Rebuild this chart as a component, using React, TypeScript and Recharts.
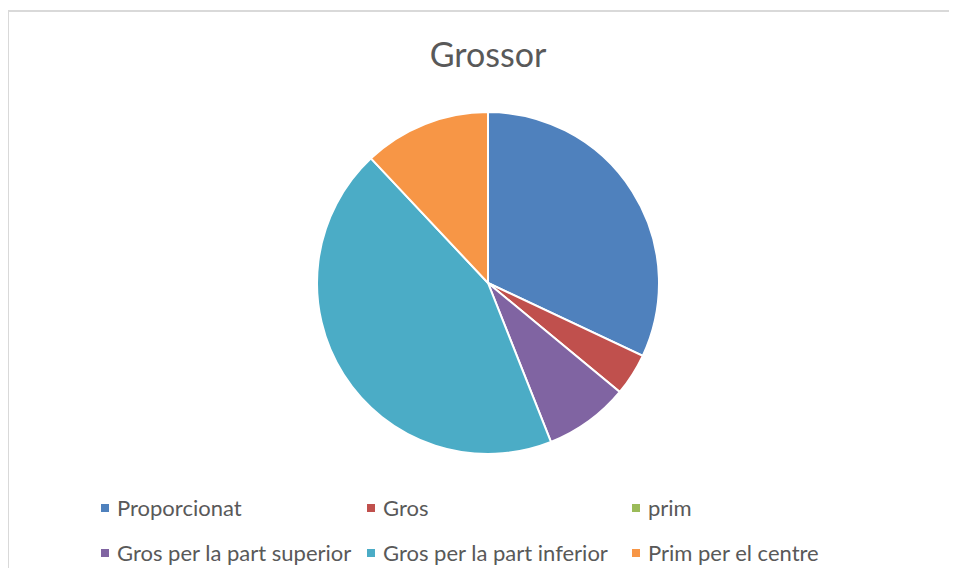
import React, { useEffect } from "react";
import { PieChart, Pie, Cell, Legend } from "recharts";

const categories = [
  "Proporcionat",
  "Gros",
  "prim",
  "Gros per la part superior",
  "Gros per la part inferior",
  "Prim per el centre",
];
const counts = [8, 1, 0, 2, 11, 3];
const COLORS = ["#4F81BD", "#C0504D", "#9BBB59", "#8064A2", "#4BACC6", "#F79646"];

const data = categories.map((name, i) => ({ name, value: counts[i] }));

const FONT = "Lato, 'Open Sans', sans-serif";
const TEXT = "#595959";

// legend grid: 3 columns, 2 rows
const legendCols = [93, 359, 624];
const legendRows = [499.5, 544.5];

function LegendGrid(props: any) {
  const payload = [...(props?.payload ?? [])].sort(
    (a: any, b: any) => categories.indexOf(a.value) - categories.indexOf(b.value)
  );
  return (
    <div style={{ position: "relative", width: 900, height: 0 }}>
      {payload.map((entry: any, i: number) => (
        <div
          key={`leg-${i}`}
          style={{
            position: "absolute",
            left: legendCols[i % 3],
            top: legendRows[Math.floor(i / 3)] - 13,
            height: 26,
            display: "flex",
            alignItems: "center",
            whiteSpace: "nowrap",
          }}
        >
          <span
            style={{
              display: "inline-block",
              width: 8,
              height: 8,
              background: entry.color,
              marginRight: 8,
            }}
          />
          <span
            style={{
              fontFamily: FONT,
              fontSize: 22,
              lineHeight: "26px",
              color: TEXT,
            }}
          >
            {entry.value}
          </span>
        </div>
      ))}
    </div>
  );
}

export default function App() {
  useEffect(() => {
    document.body.style.overflow = "hidden";
  }, []);

  return (
    <div style={{ position: "relative", width: 900, height: 560 }}>
      {/* chart frame: only top and left edges are visible in the crop */}
      <div
        style={{
          position: "absolute",
          left: -1,
          top: 2,
          width: 958,
          height: 2,
          background: "#d9d9d9",
        }}
      />
      <div
        style={{
          position: "absolute",
          left: -1,
          top: 2,
          width: 2,
          height: 570,
          background: "#d9d9d9",
        }}
      />
      <div
        style={{
          position: "absolute",
          left: 0,
          width: 960,
          top: 29,
          textAlign: "center",
          fontFamily: FONT,
          fontSize: 34,
          lineHeight: "34px",
          color: TEXT,
        }}
      >
        Grossor
      </div>
      <div style={{ position: "absolute", left: 0, top: 0 }}>
        <PieChart
          width={900}
          height={560}
          margin={{ top: 0, right: 0, bottom: 0, left: 0 }}
        >
          <Pie
            data={data}
            dataKey="value"
            nameKey="name"
            cx={480}
            cy={275}
            outerRadius={171}
            startAngle={90}
            endAngle={-270}
            stroke="#ffffff"
            strokeWidth={2}
            isAnimationActive={false}
          >
            {data.map((entry, index) => (
              <Cell key={`cell-${index}`} fill={COLORS[index % COLORS.length]} />
            ))}
          </Pie>
          <Legend
            content={<LegendGrid />}
            wrapperStyle={{ position: "absolute", left: 0, top: 0, width: 900 }}
          />
        </PieChart>
      </div>
    </div>
  );
}
